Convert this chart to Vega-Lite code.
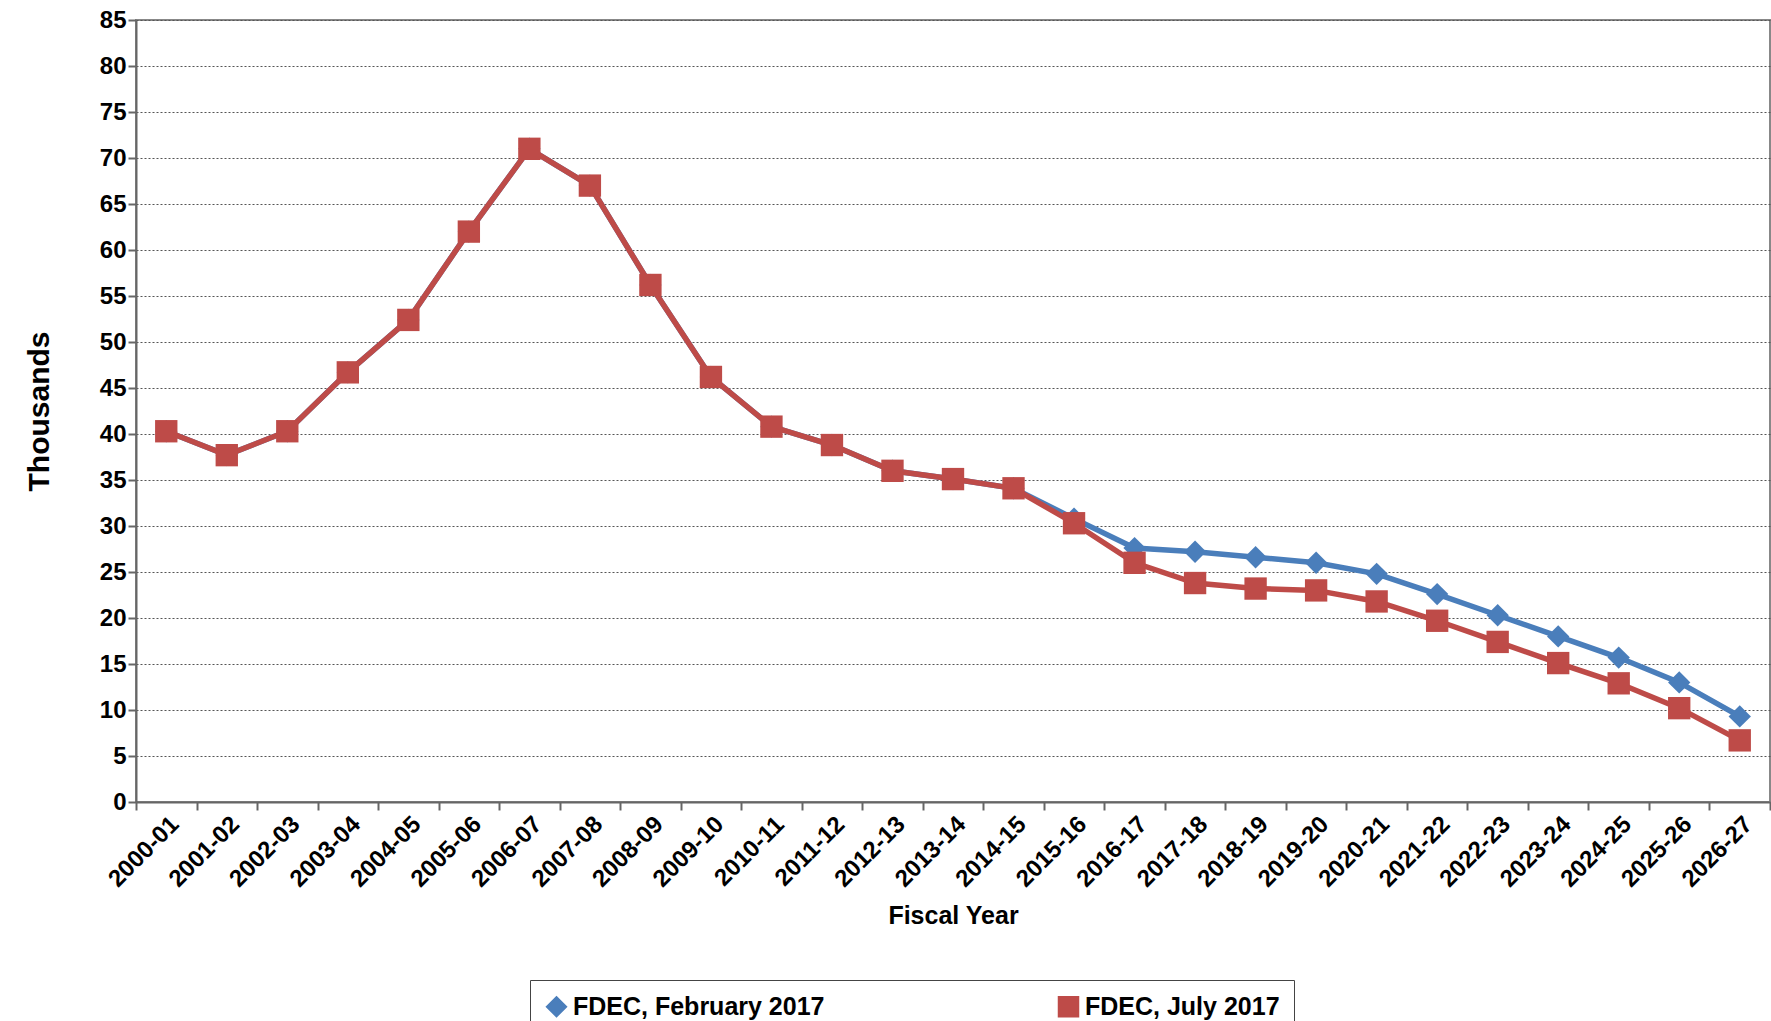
{
  "$schema": "https://vega.github.io/schema/vega-lite/v6.json",
  "width": 1634,
  "height": 782,
  "autosize": "none",
  "padding": {"left": 136, "top": 20, "right": 1, "bottom": 219},
  "background": "white",
  "config": {"view": {"stroke": "#888", "strokeWidth": 2}, "font": "Liberation Sans"},
  "data": {"values": [
    {"year": "2000-01", "s": "FDEC, February 2017", "v": 40.3},
    {"year": "2001-02", "s": "FDEC, February 2017", "v": 37.7},
    {"year": "2002-03", "s": "FDEC, February 2017", "v": 40.3},
    {"year": "2003-04", "s": "FDEC, February 2017", "v": 46.7},
    {"year": "2004-05", "s": "FDEC, February 2017", "v": 52.4},
    {"year": "2005-06", "s": "FDEC, February 2017", "v": 62.0},
    {"year": "2006-07", "s": "FDEC, February 2017", "v": 71.0},
    {"year": "2007-08", "s": "FDEC, February 2017", "v": 67.0},
    {"year": "2008-09", "s": "FDEC, February 2017", "v": 56.2},
    {"year": "2009-10", "s": "FDEC, February 2017", "v": 46.2},
    {"year": "2010-11", "s": "FDEC, February 2017", "v": 40.8},
    {"year": "2011-12", "s": "FDEC, February 2017", "v": 38.8},
    {"year": "2012-13", "s": "FDEC, February 2017", "v": 36.0},
    {"year": "2013-14", "s": "FDEC, February 2017", "v": 35.1},
    {"year": "2014-15", "s": "FDEC, February 2017", "v": 34.1},
    {"year": "2015-16", "s": "FDEC, February 2017", "v": 30.8},
    {"year": "2016-17", "s": "FDEC, February 2017", "v": 27.6},
    {"year": "2017-18", "s": "FDEC, February 2017", "v": 27.2},
    {"year": "2018-19", "s": "FDEC, February 2017", "v": 26.6},
    {"year": "2019-20", "s": "FDEC, February 2017", "v": 26.0},
    {"year": "2020-21", "s": "FDEC, February 2017", "v": 24.8},
    {"year": "2021-22", "s": "FDEC, February 2017", "v": 22.6},
    {"year": "2022-23", "s": "FDEC, February 2017", "v": 20.3},
    {"year": "2023-24", "s": "FDEC, February 2017", "v": 18.0},
    {"year": "2024-25", "s": "FDEC, February 2017", "v": 15.7},
    {"year": "2025-26", "s": "FDEC, February 2017", "v": 13.0},
    {"year": "2026-27", "s": "FDEC, February 2017", "v": 9.3},
    {"year": "2000-01", "s": "FDEC, July 2017", "v": 40.3},
    {"year": "2001-02", "s": "FDEC, July 2017", "v": 37.7},
    {"year": "2002-03", "s": "FDEC, July 2017", "v": 40.3},
    {"year": "2003-04", "s": "FDEC, July 2017", "v": 46.7},
    {"year": "2004-05", "s": "FDEC, July 2017", "v": 52.4},
    {"year": "2005-06", "s": "FDEC, July 2017", "v": 62.0},
    {"year": "2006-07", "s": "FDEC, July 2017", "v": 71.0},
    {"year": "2007-08", "s": "FDEC, July 2017", "v": 67.0},
    {"year": "2008-09", "s": "FDEC, July 2017", "v": 56.2},
    {"year": "2009-10", "s": "FDEC, July 2017", "v": 46.2},
    {"year": "2010-11", "s": "FDEC, July 2017", "v": 40.8},
    {"year": "2011-12", "s": "FDEC, July 2017", "v": 38.8},
    {"year": "2012-13", "s": "FDEC, July 2017", "v": 36.0},
    {"year": "2013-14", "s": "FDEC, July 2017", "v": 35.1},
    {"year": "2014-15", "s": "FDEC, July 2017", "v": 34.1},
    {"year": "2015-16", "s": "FDEC, July 2017", "v": 30.3},
    {"year": "2016-17", "s": "FDEC, July 2017", "v": 26.0},
    {"year": "2017-18", "s": "FDEC, July 2017", "v": 23.8},
    {"year": "2018-19", "s": "FDEC, July 2017", "v": 23.2},
    {"year": "2019-20", "s": "FDEC, July 2017", "v": 23.0},
    {"year": "2020-21", "s": "FDEC, July 2017", "v": 21.8},
    {"year": "2021-22", "s": "FDEC, July 2017", "v": 19.7},
    {"year": "2022-23", "s": "FDEC, July 2017", "v": 17.4},
    {"year": "2023-24", "s": "FDEC, July 2017", "v": 15.1},
    {"year": "2024-25", "s": "FDEC, July 2017", "v": 12.9},
    {"year": "2025-26", "s": "FDEC, July 2017", "v": 10.2},
    {"year": "2026-27", "s": "FDEC, July 2017", "v": 6.7}
  ]},
  "mark": {"type": "line", "strokeWidth": 5.5, "point": {"size": 500, "opacity": 1, "filled": true}},
  "encoding": {
    "x": {
      "field": "year", "type": "ordinal",
      "scale": {"type": "band", "paddingInner": 0, "paddingOuter": 0},
      "axis": {
        "title": "Fiscal Year", "titleFontSize": 25, "titleFontWeight": "bold", "titlePadding": 12,
        "labelAngle": -45, "labelFontSize": 24, "labelFontWeight": "bold", "labelColor": "black",
        "domainColor": "#666", "domainWidth": 2, "tickColor": "#666", "tickWidth": 2, "tickSize": 8,
        "tickBand": "extent", "labelPadding": 2
      }
    },
    "y": {
      "field": "v", "type": "quantitative",
      "scale": {"domain": [0, 85], "nice": false},
      "axis": {
        "title": "Thousands", "titleFontSize": 30, "titleFontWeight": "bold", "titlePadding": 45,
        "values": [0,5,10,15,20,25,30,35,40,45,50,55,60,65,70,75,80,85],
        "labelFontSize": 24, "labelFontWeight": "bold", "labelColor": "black",
        "gridColor": "#555", "gridDash": [2, 2], "gridWidth": 1,
        "domainColor": "#666", "domainWidth": 2, "tickColor": "#666", "tickWidth": 2, "tickSize": 8
      }
    },
    "color": {
      "field": "s", "type": "nominal", "title": null,
      "scale": {"range": ["#4a7ebb", "#be4b48"]},
      "legend": {
        "orient": "none", "direction": "horizontal",
        "legendX": 394, "legendY": 960,
        "labelFontSize": 25, "labelFontWeight": "bold", "labelColor": "black",
        "symbolSize": 400, "columnPadding": 230,
        "strokeColor": "#444", "padding": 14, "labelLimit": 400,
        "encode": {"symbols": {"update": {"shape": {"scale": "shape", "field": "value"}}}}
      }
    },
    "shape": {
      "field": "s", "type": "nominal",
      "scale": {"range": ["diamond", "square"]},
      "legend": null
    }
  }
}
